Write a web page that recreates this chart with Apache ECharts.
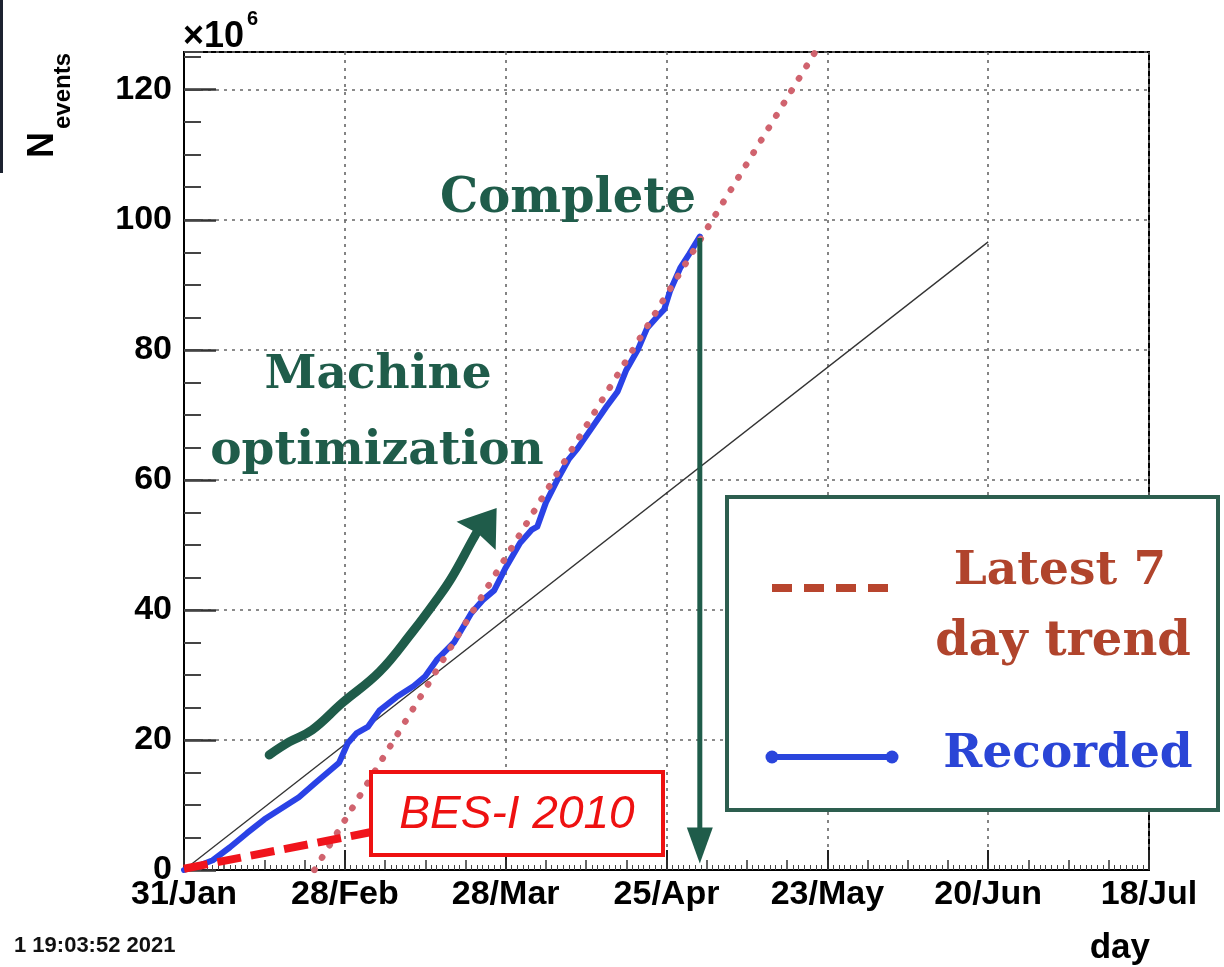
<!DOCTYPE html>
<html><head><meta charset="utf-8">
<script src="https://cdn.jsdelivr.net/npm/echarts@6/dist/echarts.min.js"></script>
<style>html,body{margin:0;padding:0;background:#fff}#c{width:1224px;height:967px}</style>
</head><body><div id="c"></div>
<script>
// ---- data ----
const xTickLabels = ['31/Jan','28/Feb','28/Mar','25/Apr','23/May','20/Jun','18/Jul'];
const yTickValues = [0, 20, 40, 60, 80, 100, 120];
const recordedDays = [0,3,5,8,11,14,17,20,23,25,27,28.5,30,32,34,37,40,42,44,47,50,52,54,56,58.5,60.5,61.5,63,65,67,68.5,71,73.5,75.5,77,79,80.6,82.3,83.6,84.6,86.4,88,89.8];
const recordedEvents = [0,0.8,1.5,3.5,5.7,7.8,9.5,11.2,13.5,15,16.5,19.5,21,22,24.5,26.6,28.3,29.8,32.3,35,39.5,41.5,43,46.5,50.3,52.3,52.8,56.5,60,63.2,64.8,68,71.2,73.6,76.9,80,83.3,85,86.2,89,92.6,94.8,97.4];
const trendDays = [22.7, 120];
const trendEvents = [0, 140.4];
const refDays = [0, 140];
const refEvents = [0, 96.6];
const besDays = [0, 32.4];
const besEvents = [0.2, 5.8];
// annotation anchors (data coordinates)
const optArrowDays = [14.83,18.32,22.33,27.56,34.02,39.78,43.96,46.58,50.24,51.12];
const optArrowEvents = [17.69,19.69,21.54,25.69,30.46,36.62,41.54,44.92,50.77,52.15];
const optHeadDays = [54.43,47.45,51.29,54.26];
const optHeadEvents = [55.69,53.54,51.69,49.23];
const completeDay = 89.8;
const completeEvents = [97.2, 1.0];

const zip = (a,b)=>a.map((v,i)=>[v,b[i]]);
const GREEN = '#1f5c4a';
const chart = echarts.init(document.getElementById('c'));
const axisFont = {fontFamily:'Liberation Sans', fontWeight:'bold', fontSize:34, color:'#000'};
const dotted = {show:true, lineStyle:{color:'#666', width:1.6, type:[3,5]}};

chart.setOption({
  animation:false,
  backgroundColor:'#fff',
  grid:{left:184, right:75, top:52, bottom:97, show:true, borderColor:'#000', borderWidth:2, backgroundColor:'transparent'},
  xAxis:[
    {type:'value', min:0, max:168, interval:28, position:'bottom',
     axisLine:{show:true, lineStyle:{color:'#000', width:2}},
     axisTick:{show:true, inside:true, length:20, lineStyle:{color:'#222', width:2}},
     axisLabel:{...axisFont, margin:8, formatter:v=>xTickLabels[Math.round(v/28)]||''},
     splitLine:dotted},
    {type:'value', min:0, max:168, interval:7, position:'bottom',
     axisLine:{show:false}, axisLabel:{show:false}, splitLine:{show:false},
     axisTick:{show:true, inside:true, length:10, lineStyle:{color:'#333', width:1.5}},
     minorTick:{show:true, splitNumber:7, length:5, lineStyle:{color:'#444', width:1}}}
  ],
  yAxis:[
    {type:'value', min:0, max:125.8, interval:20, position:'left',
     axisLine:{show:true, lineStyle:{color:'#000', width:2}},
     axisTick:{show:true, inside:true, length:32, lineStyle:{color:'#333', width:2.5}},
     axisLabel:{...axisFont, margin:12, showMaxLabel:false, formatter:v=>yTickValues.includes(v)?String(v):''},
     splitLine:dotted},
    {type:'value', min:0, max:125.8, interval:5, position:'left', offset:0,
     axisLine:{show:false}, axisLabel:{show:false}, splitLine:{show:false},
     axisTick:{show:true, inside:true, length:17, lineStyle:{color:'#444', width:2}}}
  ],
  series:[
    {type:'line', data:zip(refDays,refEvents), showSymbol:false, lineStyle:{color:'#333', width:1.3}, z:3},
    {type:'line', data:zip(recordedDays,recordedEvents), showSymbol:false, lineStyle:{color:'#2a42e6', width:6, join:'round', cap:'round'}, z:4},
    {type:'line', data:zip(trendDays,trendEvents), showSymbol:false, clip:true,
     lineStyle:{color:'#d0636e', width:6.5, type:[0.5,14], cap:'round'}, z:5},
    {type:'line', data:zip(besDays,besEvents), showSymbol:false, clip:false,
     lineStyle:{color:'#f0141c', width:8, type:[24,10]}, z:6}
  ]
});

const px = (d,v)=>chart.convertToPixel({xAxisIndex:0,yAxisIndex:0},[d,v]);
const optPts = optArrowDays.map((d,i)=>px(d,optArrowEvents[i]));
const headPts = optHeadDays.map((d,i)=>px(d,optHeadEvents[i]));
const cTop = px(completeDay, completeEvents[0]);
const cTip = px(completeDay, completeEvents[1]);
const serif = 'DejaVu Serif';
const txt = (text,x,y,size,color,opts={})=>({type:'text', z:100, style:Object.assign({text, x, y, fontFamily:serif, fontWeight:'bold', fontSize:size, fill:color, align:'center', verticalAlign:'middle'},opts)});

chart.setOption({graphic:[
  {type:'rect', z:100, shape:{x:0,y:0,width:3,height:173}, style:{fill:'#1c2230'}},
  // axis titles
  {type:'text', z:100, style:{text:'×10', x:183, y:37, fontFamily:'Liberation Sans', fontWeight:'bold', fontSize:36, fill:'#000', align:'left', verticalAlign:'middle'}},
  {type:'text', z:100, style:{text:'6', x:247, y:19, fontFamily:'Liberation Sans', fontWeight:'bold', fontSize:20, fill:'#000', align:'left', verticalAlign:'middle'}},
  {type:'text', z:100, x:43, y:158, rotation:Math.PI/2, style:{text:'N', x:0, y:0, fontFamily:'Liberation Sans', fontWeight:'bold', fontSize:36, fill:'#000', align:'left', verticalAlign:'middle'}},
  {type:'text', z:100, x:63, y:129, rotation:Math.PI/2, style:{text:'events', x:0, y:0, fontFamily:'Liberation Sans', fontWeight:'bold', fontSize:24, fill:'#000', align:'left', verticalAlign:'middle'}},
  {type:'text', z:100, style:{text:'day', x:1150, y:948, fontFamily:'Liberation Sans', fontWeight:'bold', fontSize:35, fill:'#000', align:'right', verticalAlign:'middle'}},
  {type:'text', z:100, style:{text:'1 19:03:52 2021', x:14, y:946, fontFamily:'Liberation Sans', fontWeight:'bold', fontSize:22, fill:'#111', align:'left', verticalAlign:'middle'}},
  // green annotations
  txt('Complete', 568, 200, 48, GREEN),
  txt('Machine', 378, 376, 47, GREEN),
  txt('optimization', 377, 452, 47, GREEN),
  {type:'polyline', z:100, shape:{points:optPts, smooth:0.4}, style:{stroke:GREEN, lineWidth:9, lineCap:'round', lineJoin:'round', fill:null}},
  {type:'polygon', z:100, shape:{points:headPts}, style:{fill:GREEN}},
  {type:'line', z:100, shape:{x1:cTop[0], y1:cTop[1], x2:cTip[0], y2:cTip[1]-30}, style:{stroke:GREEN, lineWidth:5}},
  {type:'polygon', z:100, shape:{points:[[cTip[0],cTip[1]],[cTip[0]-13,cTip[1]-36],[cTip[0]+13,cTip[1]-36]]}, style:{fill:GREEN}},
  // BES-I box
  {type:'rect', z:100, shape:{x:371,y:772,width:292,height:83}, style:{fill:'#fff', stroke:'#ee1111', lineWidth:4}},
  {type:'text', z:101, style:{text:'BES-I 2010', x:517, y:815, fontFamily:'Liberation Sans', fontStyle:'italic', fontSize:46, fill:'#ee1111', align:'center', verticalAlign:'middle'}},
  // legend box
  {type:'rect', z:100, shape:{x:727,y:497,width:491,height:313}, style:{fill:'#fff', stroke:'#2d5e4f', lineWidth:4}},
  {type:'line', z:101, shape:{x1:772,y1:588,x2:888,y2:588}, style:{stroke:'#b8452e', lineWidth:8, lineDash:[20,12]}},
  txt('Latest 7', 1060, 572, 47, '#b0442c'),
  txt('day trend', 1063, 643, 48, '#b0442c'),
  {type:'line', z:101, shape:{x1:772,y1:757,x2:892,y2:757}, style:{stroke:'#2a45dc', lineWidth:6}},
  {type:'circle', z:101, shape:{cx:772,cy:757,r:6.5}, style:{fill:'#2a45dc'}},
  {type:'circle', z:101, shape:{cx:892,cy:757,r:6.5}, style:{fill:'#2a45dc'}},
  txt('Recorded', 1068, 755, 47, '#2a45d6')
]});
</script></body></html>
